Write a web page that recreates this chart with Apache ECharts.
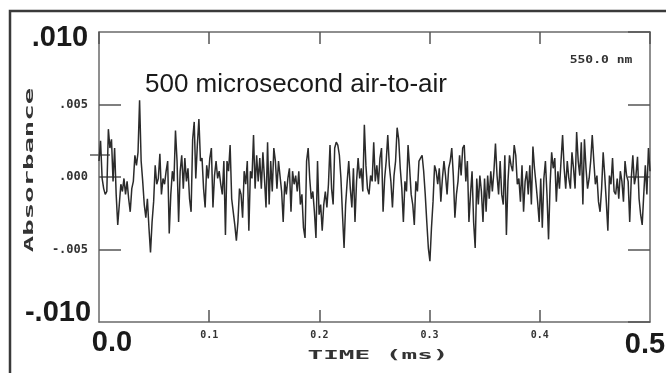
<!DOCTYPE html>
<html>
<head>
<meta charset="utf-8">
<script src="https://cdn.jsdelivr.net/npm/echarts@6.0.0/dist/echarts.min.js"></script>
<style>html,body{margin:0;padding:0;background:#fff;}#c{width:666px;height:373px;}</style>
</head>
<body>
<div id="c"></div>
<script>
const absorbanceMilliA = [1.1,2.5,-0.1,-0.8,-1.2,-1.0,3.3,2.0,2.6,-0.3,2.0,-1.2,-3.3,-1.9,-0.5,-1.0,-0.1,-1.2,-0.3,-1.5,-2.4,-0.8,-0.3,1.5,0.8,1.7,5.3,1.1,-0.3,-1.9,-2.8,-1.5,-3.5,-5.2,-3.1,-1.7,0.8,-0.5,-0.1,1.6,-1.2,-0.1,-0.5,0.4,1.1,-3.9,-1.2,0.4,-0.3,3.2,1.1,-3.1,0.4,1.5,-0.8,1.3,-0.3,0.6,-1.5,-2.4,2.6,3.8,-0.1,2.2,4.0,1.1,1.3,-0.8,-2.1,0.8,-0.1,1.3,2.0,-2.1,0.1,1.1,-0.1,0.4,-0.5,-1.2,1.1,-4.0,1.1,0.4,2.2,-1.5,-2.4,-3.3,-4.4,-3.1,-0.8,-1.2,-2.8,0.4,-0.5,1.1,-3.7,0.4,-0.1,2.9,-0.8,1.5,-0.3,1.3,-0.8,1.7,-0.1,-2.1,2.4,-1.9,1.1,-1.0,2.0,1.1,-0.8,1.1];
const absorbanceMilliB = [1.1,-1.0,-3.1,-0.3,-1.2,-0.1,0.6,-2.4,0.4,-0.5,0.1,-1.0,0.4,-1.9,-1.2,-3.5,-4.2,1.1,2.0,-0.1,-1.5,-1.0,-2.4,-4.2,1.1,-2.6,-1.9,-3.7,-1.9,-1.0,-2.1,-0.5,2.2,-0.8,-1.9,2.0,2.4,2.2,1.5,-0.1,-2.6,-4.9,-1.9,-0.3,1.1,-0.8,-2.1,0.6,-3.1,-0.3,1.3,-0.1,0.6,-1.0,3.6,0.8,-0.8,-1.2,0.1,-0.3,2.4,-0.3,0.8,-0.5,1.3,2.0,-2.4,-0.1,1.1,2.9,0.8,-0.3,-2.1,0.1,1.1,3.4,2.6,0.6,-0.8,-3.1,-0.3,-1.0,2.2,0.6,-1.2,-1.9,-3.3,-0.3,-1.0,1.1,1.3,1.5,0.4,-1.2,-3.1,-4.9,-5.8,-3.5,-1.7,0.8,0.4,-0.5,0.6,-1.7,-0.1,1.1,0.1,-1.2,0.6,1.1,2.0,0.1,-2.8,-1.2,-0.3,1.5,0.1,2.0,2.2,-0.3,1.1,-3.1,-1.2];
const absorbanceMilliC = [0.4,-3.1,-4.9,-0.1,-1.9,0.1,-1.0,-3.1,-0.1,-2.4,0.1,-1.5,0.4,-1.0,0.4,2.3,0.1,-1.2,1.1,-1.2,-1.9,1.5,-4.0,-0.3,1.5,0.8,0.4,2.2,1.5,-0.5,-0.1,-1.7,0.8,-2.4,-0.3,0.4,-1.2,0.8,-1.9,2.1,0.6,-0.5,-1.7,-3.1,-0.1,-3.5,-0.1,1.1,-1.2,-4.3,-0.5,1.7,0.6,1.3,-1.7,0.4,-0.8,1.1,2.9,0.6,-0.8,1.1,-0.1,-0.8,1.7,0.6,-0.8,3.1,1.1,0.1,2.4,-1.9,2.6,0.6,-0.8,-0.1,1.1,2.9,1.1,-0.5,0.1,-1.7,-2.4,-0.8,1.7,0.1,-1.7,-3.7,0.1,-0.5,1.3,-1.0,-1.2,-0.1,-1.5,0.4,-0.3,-1.7,1.1,0.1,-0.3,-3.1,-0.1,1.5,-0.5,0.1,1.4,-1.5,-2.6,-3.3,-1.2,0.8,-1.2,2.0,0.4];

const timeStartMs = 0.0;
const timeEndMs = 0.5;
const xTickLabels = {'0.1':'0.1','0.2':'0.2','0.3':'0.3','0.4':'0.4'};
const yTickLabels = {'-5':'-.005','0':'.000','5':'.005'};
const bigXLabels = ['0.0','0.5'];
const bigYLabels = ['.010','-.010'];
const titleText = '500 microsecond air-to-air';
const wavelengthText = '550.0 nm';
const xAxisName = 'TIME (ms)';
const yAxisName = 'Absorbance';

const trace = absorbanceMilliA.concat(absorbanceMilliB, absorbanceMilliC);
const n = trace.length;
const seriesData = trace.map((v, i) => [timeStartMs + (timeEndMs - timeStartMs) * i / (n - 1), v]);

const mono = '"DejaVu Sans Mono", monospace';
const sans = '"Liberation Sans", Arial, sans-serif';
const axisCol = '#6a6a6a';

const chart = echarts.init(document.getElementById('c'), null, {renderer: 'canvas'});
const commonX = {
  type: 'value', min: 0, max: 0.5, interval: 0.1,
  axisLine: {onZero: false, lineStyle: {color: axisCol, width: 1.5}},
  axisTick: {inside: true, length: 12, lineStyle: {color: '#555', width: 1.5}},
  splitLine: {show: false}
};
const commonY = {
  type: 'value', min: -10, max: 10, interval: 5,
  axisLine: {onZero: false, lineStyle: {color: axisCol, width: 1.5}},
  axisTick: {inside: true, length: 22, lineStyle: {color: '#555', width: 1.5}},
  splitLine: {show: false}
};
chart.setOption({
  animation: false,
  backgroundColor: '#fff',
  grid: {left: 99, right: 16, top: 32, bottom: 51},
  xAxis: [
    Object.assign({}, commonX, {position: 'bottom', axisLabel: {
      showMinLabel: false, showMaxLabel: false, hideOverlap: false, margin: 8,
      fontFamily: mono, fontWeight: 'bold', fontSize: 10, color: '#333',
      formatter: v => xTickLabels[(+v).toFixed(1)] || ''
    }}),
    Object.assign({}, commonX, {position: 'top', axisLabel: {show: false}})
  ],
  yAxis: [
    Object.assign({}, commonY, {position: 'left', axisLabel: {
      showMinLabel: false, showMaxLabel: false, hideOverlap: false, margin: 11,
      fontFamily: mono, fontWeight: 'bold', fontSize: 12, color: '#333',
      formatter: v => yTickLabels[String(Math.round(v))] || ''
    }}),
    Object.assign({}, commonY, {position: 'right', axisLabel: {show: false}})
  ],
  series: [{
    type: 'line', data: seriesData, showSymbol: false, symbol: 'none',
    lineStyle: {color: '#2b2b2b', width: 1.5}, silent: true
  }],
  graphic: [
    {type: 'rect', shape: {x: 10, y: 11, width: 720, height: 420}, style: {fill: 'none', stroke: '#3a3a3a', lineWidth: 2.5}, silent: true},
    {type: 'line', shape: {x1: 90, y1: 155, x2: 110, y2: 155}, style: {stroke: '#333', lineWidth: 1.2}},
    {type: 'text', x: 60, y: 38, style: {text: bigYLabels[0], font: 'bold 29px ' + sans, fill: '#1a1a1a', textAlign: 'center', textVerticalAlign: 'middle'}},
    {type: 'text', x: 58, y: 313, style: {text: bigYLabels[1], font: 'bold 29px ' + sans, fill: '#1a1a1a', textAlign: 'center', textVerticalAlign: 'middle'}},
    {type: 'text', x: 112, y: 343, style: {text: bigXLabels[0], font: 'bold 29px ' + sans, fill: '#1a1a1a', textAlign: 'center', textVerticalAlign: 'middle'}},
    {type: 'text', x: 645, y: 345, style: {text: bigXLabels[1], font: 'bold 29px ' + sans, fill: '#1a1a1a', textAlign: 'center', textVerticalAlign: 'middle'}},
    {type: 'text', x: 145, y: 85, style: {text: titleText, font: '26px ' + sans, fill: '#1a1a1a', textAlign: 'left', textVerticalAlign: 'middle'}},
    {type: 'text', x: 601, y: 60, scaleX: 1.3, style: {text: wavelengthText, font: 'bold 10px ' + mono, fill: '#333', textAlign: 'center', textVerticalAlign: 'middle'}},
    {type: 'text', x: 378, y: 356, scaleX: 2, style: {text: xAxisName, font: 'bold 13px ' + mono, fill: '#333', textAlign: 'center', textVerticalAlign: 'middle'}},
    {type: 'text', x: 30, y: 170, rotation: Math.PI / 2, scaleX: 2.1, style: {text: yAxisName, font: 'bold 13px ' + mono, fill: '#333', textAlign: 'center', textVerticalAlign: 'middle'}}
  ]
});
</script>
</body>
</html>
